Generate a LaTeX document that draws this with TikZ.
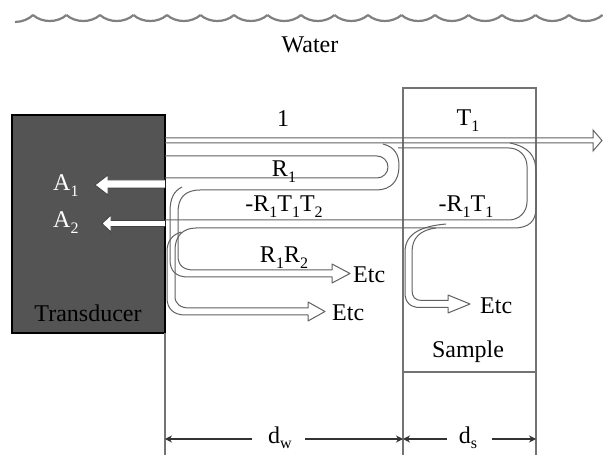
\documentclass[tikz,border=0pt]{standalone}
\usepackage{fontspec}
\setmainfont{Liberation Serif}
\usetikzlibrary{arrows.meta}
\newcommand\lowsub[1]{\raisebox{-0.24em}{\fontsize{16}{16}\selectfont #1}}
\begin{document}
\begin{tikzpicture}[x=1pt,y=-1pt,
  bm/.style={draw=black!62, line width=1pt, line join=round},
  gline/.style={draw=black!55, line width=1.4pt},
  wave/.style={draw=black!50, line width=2.2pt},
  dim/.style={draw=black!80, line width=1.3pt, -{Stealth[length=7pt,width=7pt]}},
  wa/.style={draw=black!75, fill=white, line width=0.8pt, line join=miter},
  lbl/.style={font=\fontsize{24}{26}\selectfont, inner sep=0pt, anchor=base}]
\useasboundingbox (0,0) rectangle (603,457);
\fill[white] (0,0) rectangle (603,457);

% water surface
\draw[wave] (15,22) .. controls (22,22) and (29,19) .. (33,15);
\foreach \i in {0,...,16}{
  \draw[wave] ({33+33.5*\i},15) .. controls ({33+33.5*\i+9},23) and ({33+33.5*\i+24.5},23) .. ({33+33.5*(\i+1)},15);
}
\draw[wave] (602.5,15) -- (603,15.5);

% transducer
\draw[fill=black!67, draw=black, line width=1.4pt] (12,115) rectangle (165,333);

% sample box and guide lines
\draw[gline] (403,455) -- (403,88) -- (536,88) -- (536,455);
\draw[gline] (403,372) -- (536,372);
\draw[gline] (165,333) -- (165,455);

% beam 1
\draw[bm, line join=miter] (165,138) -- (593,138) -- (593,130) -- (602,140.5) -- (593,151) -- (593,143) -- (165,143);

% R1 inner U
\draw[bm, rounded corners=11] (165,156) -- (388,156) -- (388,178) -- (165,178);

% R1 outer, R1R2 beam
\draw[bm] (383,144) .. controls (395,147) and (399,155) .. (399,166) .. controls (399,181) and (391,190) .. (376,190) -- (200,190) .. controls (185,190) and (178,198) .. (178,212) -- (178,256) .. controls (178,265) and (183,270) .. (194,270) -- (332,270) -- (332,264) -- (350,273.5) -- (332,283) -- (332,277) -- (188,277) .. controls (176,277) and (170,271) .. (170,260) -- (170,212) .. controls (170,198) and (174,191) .. (182,187);

% sample loop inner / -R1T1T2 upper edge
\draw[bm, rounded corners=18] (398,148) -- (527,148) -- (527,220) -- (165,220);

% sample loop outer / lower Etc beam
\draw[bm] (510,143) .. controls (529,147) and (536,156) .. (536,172) -- (536,208) .. controls (536,221) and (529,228) .. (514,228) -- (196,228) .. controls (183,228) and (175,236) .. (175,250) -- (175,296) .. controls (175,304) and (180,308) .. (190,308) -- (308,308) -- (308,302) -- (325,311.5) -- (308,321) -- (308,315) -- (185,315) .. controls (173,315) and (167,308) .. (167,298) -- (167,252) .. controls (167,241) and (172,235) .. (181,232);

% Etc beam inside sample
\draw[bm] (446,224) .. controls (424,226) and (405,232) .. (405,252) -- (405,293) .. controls (405,302) and (410,307.5) .. (420,307.5) -- (448,307.5) -- (448,313) -- (470,304) -- (448,295) -- (448,300.5) -- (422,300.5) .. controls (415,300.5) and (412,297) .. (412,290) -- (412,252) .. controls (412,238) and (420,230) .. (436,228);

% white arrows into transducer
\draw[wa] (165,180) -- (108,180) -- (108,175) -- (95,185) -- (108,195) -- (108,188) -- (165,188);
\draw[wa] (165,220.5) -- (111,220.5) -- (111,215) -- (102,223.5) -- (111,232) -- (111,226.5) -- (165,226.5);

% labels
\node[lbl] (water) at (310,53) {Water};
\node[lbl] (one) at (283,127) {1};
\node[lbl] (t1) at (468,126) {T\lowsub{1}};
\node[lbl] (r1) at (284,177) {R\lowsub{1}};
\node[lbl] (rtt) at (284,212) {-R\lowsub{1}T\lowsub{1}T\lowsub{2}};
\node[lbl] (rt) at (466,212) {-R\lowsub{1}T\lowsub{1}};
\node[lbl] (rr) at (284,263) {R\lowsub{1}R\lowsub{2}};
\node[lbl, anchor=base west] (etc1) at (353,283) {Etc};
\node[lbl, anchor=base west] (etc2) at (332,320) {Etc};
\node[lbl, anchor=base west] (etc3) at (480,314) {Etc};
\node[lbl] (sample) at (468,358) {Sample};
\node[lbl, text=white, anchor=base west] (a1) at (53,191) {A\lowsub{1}};
\node[lbl, text=white, anchor=base west] (a2) at (53,228) {A\lowsub{2}};
\node[lbl] (trans) at (88,322) {Transducer};
\node[lbl] (dw) at (280,443) {d\lowsub{w}};
\node[lbl] (ds) at (468,443) {d\lowsub{s}};

% dimension lines
\coordinate (dA) at (165,439);
\coordinate (dB) at (403,439);
\coordinate (dC) at (536,439);
\coordinate (dw1) at (252,439);
\coordinate (dw2) at (305,439);
\coordinate (ds1) at (447,439);
\coordinate (ds2) at (492,439);
\draw[dim] (dw1) -- (dA);
\draw[dim] (dw2) -- (dB);
\draw[dim] (ds1) -- (dB);
\draw[dim] (ds2) -- (dC);
\end{tikzpicture}
\end{document}
